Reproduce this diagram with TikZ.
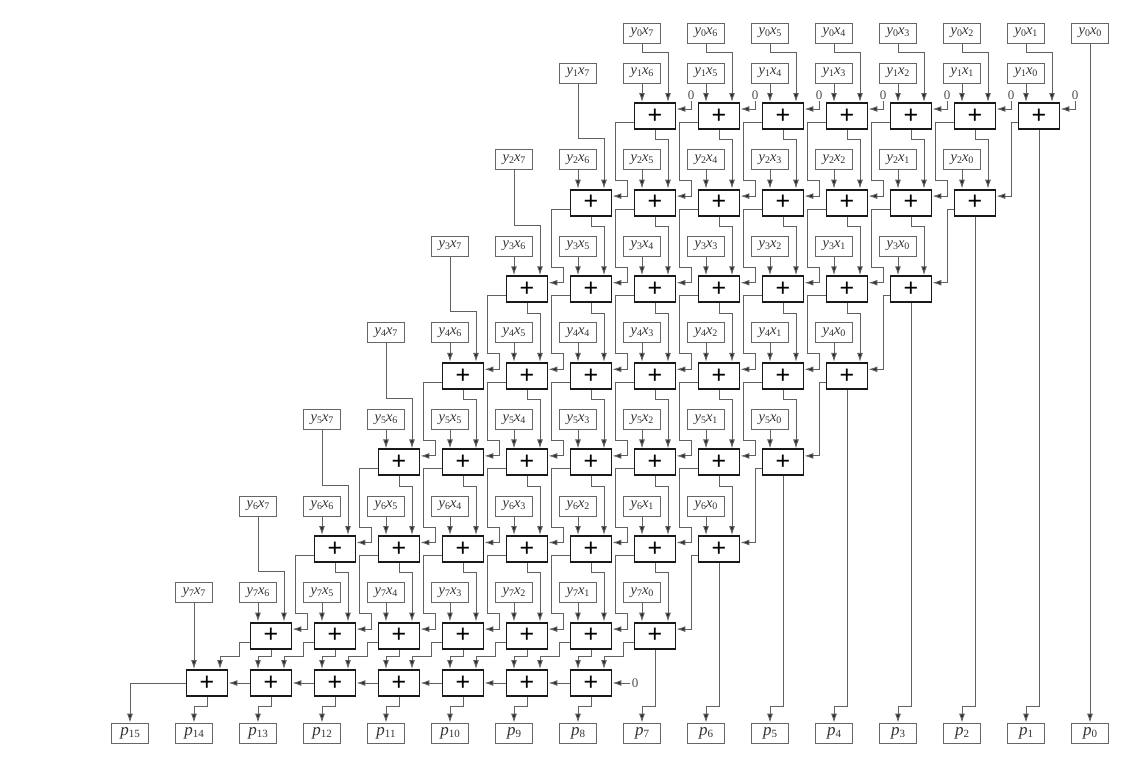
\documentclass[tikz,border=0pt]{standalone}
\usepackage{fontspec}
\setmainfont{Liberation Serif}
\newfontfamily\plusfont{Liberation Sans}
\usetikzlibrary{calc,arrows.meta}

\newcommand{\yx}[2]{\fontsize{14.5}{15}\selectfont\textit{y}\raisebox{-2pt}{\fontsize{10}{10}\selectfont #1}\textit{x}\raisebox{-2pt}{\fontsize{10}{10}\selectfont #2}}
\newcommand{\pn}[1]{\fontsize{17}{17}\selectfont\textit{p}\raisebox{-2pt}{\fontsize{11}{11}\selectfont #1}}

\tikzset{
    >={Latex[length=9pt,width=6pt,fill=black!85]},
    wire/.style={draw=black!62,line width=1pt},
    adder/.style={draw=black!90,line width=1.9pt,minimum width=41pt,minimum height=26pt,inner sep=0pt,
        font=\plusfont\fontsize{25}{25}\selectfont},
    termbox/.style={draw=black!60,line width=0.8pt,minimum width=37pt,minimum height=20pt,inner sep=0pt,text=black!80},
    zerolabel/.style={inner sep=1.5pt,text=black!70,font=\fontsize{13}{13}\selectfont},
}

\begin{document}
\begin{tikzpicture}[x=1pt,y=-1pt]

    \useasboundingbox (0,0) rectangle (1135,766);
    \pgfmathsetmacro\dy{86.6}

    % adders and the terms above them
    \foreach \r in {1,...,7} {
        \pgfmathsetmacro\ya{116+\dy*(\r-1)}
        \pgfmathsetmacro\yb{\ya-43}
        \foreach \k in {0,...,6} {
            \pgfmathsetmacro\cx{207+64*(14-\r-\k)}
            \node[adder] (add-\r-\k) at (\cx,\ya) {+};
            \node[termbox] (y-\r-\k) at (\cx-13,\yb) {\yx{\r}{\k}};
        }
        \pgfmathsetmacro\cx{207+64*(7-\r)-13}
        \node[termbox] (y-\r-7) at (\cx,\yb) {\yx{\r}{7}};
    }
    \foreach \k in {0,...,7} {
        \pgfmathsetmacro\cx{1090-64*\k}
        \node[termbox] (y-0-\k) at (\cx,33) {\yx{0}{\k}};
    }
    \foreach \k in {0,...,6} {
        \node[adder] (rip-\k) at (591-64*\k,683) {+};
    }
    \foreach \n in {0,...,15} {
        \node[termbox] (p-\n) at (1090-64*\n,733) {\pn{\n}};
    }

    % zeros
    \foreach \k in {0,...,6} {
        \pgfmathsetmacro\cx{1075-64*\k}
        \node[zerolabel] (zero-\k) at (\cx,95) {0};
        \draw[wire,->] (zero-\k.south) |- ($(add-1-\k.east)+(0,-7)$);
        \pgfmathtruncatemacro\m{\k+1}
        \draw[wire,->] (y-0-\m.south) |- ($(add-1-\k.north)+(13,-49.5)$) -- ($(add-1-\k.north)+(13,0)$);
    }
    \node[zerolabel] (zero-r) at (635,683) {0};
    \draw[wire,->] (zero-r.west) -- (rip-0.east);
    \draw[wire,->] (y-0-0.south) -- (p-0.north);

    % rows of the array
    \foreach \r in {1,...,7} {
        \foreach \k in {0,...,6} {
            \draw[wire,->] (y-\r-\k.south) -- ($(add-\r-\k.north)+(-13,0)$);
        }
        \draw[wire,->] (add-\r-0.south) |- ($(p-\r.north)+(0,-16)$) -- (p-\r.north);
    }
    \foreach \r in {1,...,6} {
        \pgfmathtruncatemacro\n{\r+1}
        \foreach \k in {1,...,6} {
            \pgfmathtruncatemacro\m{\k-1}
            \draw[wire,->] (add-\r-\k.south) -- ++(0,10) -| ($(add-\n-\m.north)+(13,0)$);
            \draw[wire,->] ($(add-\r-\k.west)+(0,6.5)$) -- ++(-18,0)
                |- ($(add-\n-\k.east)+(15,-22)$) |- ($(add-\n-\k.east)+(0,-6.5)$);
        }
        \draw[wire,->] ($(add-\r-0.west)+(0,6.5)$) -| ($(add-\n-0.east)+(15,-6.5)$) -- ($(add-\n-0.east)+(0,-6.5)$);
        \draw[wire,->] (y-\r-7.south) |- ($(add-\n-6.north)+(13,-50)$) -- ($(add-\n-6.north)+(13,0)$);
    }

    % last row
    \draw[wire,->] (y-7-7.south) -- ($(rip-6.north)+(-13,0)$);
    \foreach \k in {0,...,6} {
        \pgfmathtruncatemacro\n{\k+8}
        \draw[wire,->] (rip-\k.south) -- ++(0,10) -| (p-\n.north);
        \draw[wire,->] ($(add-7-\k.west)+(0,6.5)$) -- ++(-10.5,0) |- ($(rip-\k.north)+(13,-13)$) -- ($(rip-\k.north)+(13,0)$);
    }
    \foreach \k in {0,...,5} {
        \pgfmathtruncatemacro\m{\k+1}
        \draw[wire,->] (add-7-\m.south) |- ($(rip-\k.north)+(-13,-13)$) -- ($(rip-\k.north)+(-13,0)$);
        \draw[wire,->] (rip-\k.west) -- (rip-\m.east);
    }
    \draw[wire,->] (rip-6.west) -| (p-15.north);

\end{tikzpicture}
\end{document}
